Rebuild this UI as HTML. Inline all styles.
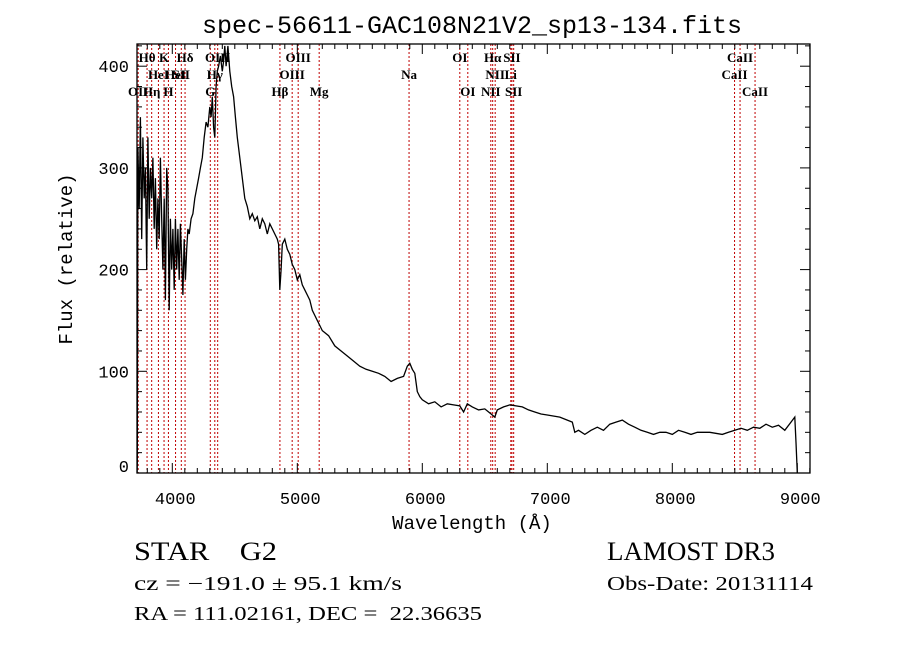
<!DOCTYPE html>
<html><head><meta charset="utf-8"><style>
html,body{margin:0;padding:0;background:#fff;}
svg{display:block;}
.mono{font-family:"Liberation Mono",monospace;}
.serif{font-family:"Liberation Serif",serif;}
</style></head><body>
<svg id="chart" width="900" height="649" viewBox="0 0 900 649">
<text x="472" y="33" text-anchor="middle" class="mono" font-size="25">spec-56611-GAC108N21V2_sp13-134.fits</text>
<g id="lines"></g>
<g id="labels" class="serif" font-size="13" font-weight="bold"></g>
<path id="spec" fill="none" stroke="#000" stroke-width="1.3"/>
<g id="axes"></g>
<text x="472" y="529" text-anchor="middle" class="mono" font-size="19">Wavelength (Å)</text>
<text transform="translate(72,259) rotate(-90)" text-anchor="middle" class="mono" font-size="19">Flux (relative)</text>
<text x="134" y="560" class="serif" font-size="26" textLength="143" lengthAdjust="spacingAndGlyphs" xml:space="preserve">STAR    G2</text>
<text x="134" y="590" class="serif" font-size="20" textLength="268" lengthAdjust="spacingAndGlyphs">cz = −191.0 ± 95.1 km/s</text>
<text x="134" y="620" class="serif" font-size="20" textLength="348" lengthAdjust="spacingAndGlyphs" xml:space="preserve">RA = 111.02161, DEC =  22.36635</text>
<text x="607" y="560" class="serif" font-size="26" textLength="168" lengthAdjust="spacingAndGlyphs">LAMOST DR3</text>
<text x="607" y="590" class="serif" font-size="20" textLength="206" lengthAdjust="spacingAndGlyphs">Obs-Date: 20131114</text>
</svg>
<script>
const wave=[3718,3720,3725,3735,3745,3755,3765,3775,3785,3795,3805,3815,3825,3835,3845,3855,3865,3875,3885,3895,3905,3915,3925,3935,3945,3955,3965,3975,3985,3995,4005,4015,4025,4035,4045,4055,4065,4075,4085,4095,4105,4115,4125,4135,4150,4165,4180,4195,4210,4225,4240,4255,4270,4285,4300,4310,4320,4330,4340,4350,4360,4370,4385,4400,4410,4420,4430,4445,4460,4475,4490,4505,4520,4540,4560,4580,4600,4620,4640,4660,4680,4700,4720,4740,4760,4780,4800,4820,4840,4850,4860,4870,4880,4900,4920,4940,4960,4980,5000,5020,5040,5060,5080,5100,5120,5140,5160,5180,5200,5250,5300,5350,5400,5450,5500,5550,5600,5650,5700,5750,5800,5850,5880,5900,5920,5940,5960,5980,6000,6050,6100,6150,6200,6250,6300,6330,6360,6400,6450,6500,6550,6580,6600,6650,6700,6750,6800,6850,6900,6950,7000,7100,7200,7220,7250,7300,7350,7400,7450,7500,7550,7600,7650,7700,7750,7800,7850,7900,7950,8000,8050,8100,8150,8200,8300,8400,8450,8500,8550,8600,8650,8700,8750,8800,8850,8900,8950,8980,8990,9000];
const flux=[0,10,320,260,350,230,330,270,300,200,330,250,300,270,310,240,290,220,270,230,310,250,200,270,170,300,280,160,250,200,240,180,250,200,240,190,245,210,175,230,190,220,240,235,250,255,270,280,290,300,310,330,345,340,360,350,370,340,330,380,395,400,410,395,405,420,400,420,395,380,370,350,330,310,290,270,262,250,255,248,252,240,250,245,235,245,240,235,230,225,180,200,225,230,220,215,205,200,190,195,185,180,175,170,160,155,150,145,140,135,125,120,115,110,105,102,100,98,95,90,93,95,105,108,102,98,80,75,72,68,70,65,68,67,66,60,68,65,62,63,58,55,62,65,67,66,65,62,60,58,57,55,50,40,42,38,42,45,42,48,50,52,48,45,42,40,38,40,40,38,42,40,38,40,40,38,40,42,44,42,45,44,48,45,47,42,50,55,30,0];
const lineWaves=[3727,3798,3835,3889,3934,3969,4026,4072,4102,4304,4340,4363,4861,4959,5007,5175,5894,6300,6364,6548,6563,6583,6708,6717,6731,8498,8542,8662];
const lineNames=["OII","Hθ","Hη","HeI","K","H","HeI","SII","Hδ","G","Hγ","OIII","Hβ","OIII","OIII","Mg","Na","OI","OI","NII","Hα","NII","Li","SII","SII","CaII","CaII","CaII"];
const lineRows=[2,0,2,1,0,2,1,1,0,2,1,0,2,1,0,2,1,0,2,2,0,1,1,0,2,1,0,2];
const xTicks=[4000,5000,6000,7000,8000,9000];
const yTicks=[0,100,200,300,400];
const L=137,R=810,T=44,B=473;
const x=w=>172.3+(w-4000)*0.125;
const y=f=>B-f*1.017;
const NS="http://www.w3.org/2000/svg";
function mk(tag,attrs,parent,txt){const e=document.createElementNS(NS,tag);for(const k in attrs)e.setAttribute(k,attrs[k]);if(txt!==undefined)e.textContent=txt;parent.appendChild(e);return e;}
const gl=document.getElementById('lines'),gb=document.getElementById('labels'),ga=document.getElementById('axes');
lineWaves.forEach((w,i)=>{
 const l=mk('line',{x1:x(w),x2:x(w),y1:T,y2:B,stroke:'#c00000','stroke-width':1,'stroke-dasharray':'2,2'},gl);
 
 
 const t=mk('text',{x:x(w),y:62+lineRows[i]*17,'text-anchor':'middle'},gb,lineNames[i]);
 
 
});
let d='';wave.forEach((w,i)=>{d+=(i?'L':'M')+x(w).toFixed(1)+','+y(flux[i]).toFixed(1);});
document.getElementById('spec').setAttribute('d',d);
const fr=mk('rect',{x:L,y:T,width:R-L,height:B-T,fill:'none',stroke:'#000','stroke-width':1.3},ga);


for(let w=3800;w<=9100;w+=100){const maj=w%1000===0;
 mk('line',{x1:x(w),x2:x(w),y1:B,y2:B-(maj?10:5),stroke:'#000'},ga);
 mk('line',{x1:x(w),x2:x(w),y1:T,y2:T+(maj?10:5),stroke:'#000'},ga);}
for(let f=20;f<=420;f+=20){const maj=f%100===0;
 mk('line',{x1:L,x2:L+(maj?10:5),y1:y(f),y2:y(f),stroke:'#000'},ga);
 mk('line',{x1:R,x2:R-(maj?10:5),y1:y(f),y2:y(f),stroke:'#000'},ga);}
xTicks.forEach(w=>{const t=mk('text',{x:x(w)+3,y:504,'text-anchor':'middle','font-size':17,'class':'mono'},ga,String(w));
 
 });
yTicks.forEach(f=>{const t=mk('text',{x:129,y:y(f)+(f===0?-1:6),'text-anchor':'end','font-size':17,'class':'mono'},ga,String(f));
 
 });
</script>
</body></html>
